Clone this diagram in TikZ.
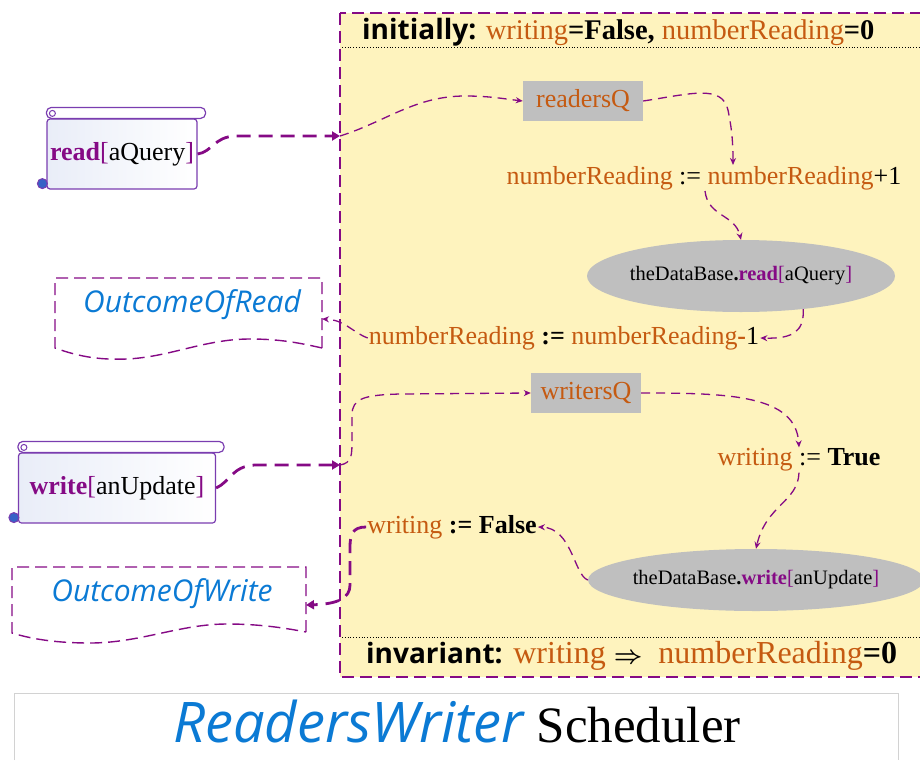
\documentclass[tikz,border=0pt]{standalone}
\usepackage{fontspec}
\setmainfont{Liberation Serif}
\newfontfamily\headfont{Open Sans}
\newfontfamily\handfont{Open Sans}
\usepackage{tikz}
\usetikzlibrary{calc,arrows.meta,shapes.geometric,positioning}

\definecolor{rwyellow}{HTML}{FEF3BE}
\definecolor{rworange}{HTML}{C55A11}
\definecolor{rwpurple}{HTML}{850A85}
\definecolor{rwviolet}{HTML}{7A3DB0}
\definecolor{rwblue}{HTML}{0B7AD4}
\definecolor{rwgray}{HTML}{BFBFBF}
\definecolor{rwpale}{HTML}{E9EDF8}

\newcommand{\rwv}[1]{\textcolor{rworange}{#1}}
\newcommand{\rwop}[1]{\textcolor{rwpurple}{\bfseries #1}}
\newcommand{\rwbr}[1]{\textcolor{rwpurple}{#1}}

\tikzset{
  flow/.style={rwpurple, line width=1.3pt, dash pattern=on 9pt off 6pt,
    -{Stealth[length=7pt,width=6pt]}},
  bigflow/.style={rwpurple, line width=2.8pt, dash pattern=on 14pt off 8pt,
    -{Triangle[length=8pt,width=9pt]}},
  rwtext/.style={font=\fontsize{26}{30}\selectfont, inner sep=1pt},
  queue/.style={rwtext, fill=rwgray, minimum height=40pt, text=rworange},
  dbcall/.style={ellipse, fill=rwgray, inner xsep=-12pt, inner ysep=0pt,
    font=\fontsize{20.5}{24}\selectfont},
  scroll/.style={draw=rwviolet, line width=1.2pt, rounded corners=3pt,
    left color=rwpale, right color=white, minimum height=70pt, inner sep=0pt,
    font=\fontsize{26}{30}\selectfont},
  outline/.style={rwpurple, line width=1.4pt, dash pattern=on 12pt off 6pt},
  outtext/.style={text=rwblue, font=\handfont\itshape\fontsize{30}{34}\selectfont},
}

\begin{document}
\begin{tikzpicture}[x=1pt,y=-1pt]

\useasboundingbox (0,0) rectangle (920,760);

% the scheduler
\fill[rwyellow] (340,13) rectangle (930,677);
\draw[rwpurple, line width=1.4pt, dash pattern=on 12pt off 6pt] (340,13) rectangle (930,677);
\draw[dotted, thick] (342,47) -- (920,47);
\draw[dotted, thick] (342,637) -- (920,637);

\node[anchor=west, inner sep=0pt, font=\fontsize{28.5}{32}\selectfont] (init) at (362,32)
  {{\headfont\bfseries\fontsize{28}{32}\selectfont initially:} \rwv{writing}\textbf{=False,} \rwv{numberReading}\textbf{=0}};
\node[anchor=west, inner sep=0pt, font=\fontsize{32}{36}\selectfont] (inv) at (366,656)
  {{\headfont\bfseries\fontsize{28}{32}\selectfont invariant:} \rwv{writing} {\boldmath$\Rightarrow$}\ \ \rwv{numberReading}\textbf{=0}};

\coordinate (readin) at (340,136);
\coordinate (writein) at (340,465);

% messages coming in
\node[scroll, minimum width=150pt] (readmsg) at (122,154) {\rwop{read}\rwbr{[}aQuery\rwbr{]}};
\draw[rwviolet, line width=1.2pt, fill=white, rounded corners=5pt]
  ($(readmsg.north west)+(0,-11)$) rectangle ($(readmsg.north east)+(8,0)$);
\draw[rwviolet, line width=1pt] ($(readmsg.north west)+(6,-5)$) circle (3);
\draw[rwviolet, line width=1pt, fill=rwblue!60!rwviolet] ($(readmsg.south west)+(-4,-6)$) circle (5);

\node[scroll, minimum width=197pt] (writemsg) at (117,488) {\rwop{write}\rwbr{[}anUpdate\rwbr{]}};
\draw[rwviolet, line width=1.2pt, fill=white, rounded corners=5pt]
  ($(writemsg.north west)+(0,-11)$) rectangle ($(writemsg.north east)+(8,0)$);
\draw[rwviolet, line width=1pt] ($(writemsg.north west)+(6,-5)$) circle (3);
\draw[rwviolet, line width=1pt, fill=rwblue!60!rwviolet] ($(writemsg.south west)+(-4,-6)$) circle (5);

% outcomes
\coordinate (outreadR) at (322,319);
\coordinate (outwriteR) at (306,605);
\draw[outline] (322,348) -- (322,278) -- (55,278) -- (55,348)
  .. controls (80,357) and (100,360) .. (127,359)
  .. controls (170,357) and (205,339) .. (250,339)
  .. controls (280,339) and (300,343) .. (322,348);
\node[outtext] (outread) at (192,305) {OutcomeOfRead};
\draw[outline] (306,632) -- (306,567) -- (12,567) -- (12,633)
  .. controls (35,640) and (60,643) .. (90,643)
  .. controls (140,643) and (180,624) .. (227,624)
  .. controls (260,624) and (285,628) .. (306,632);
\node[outtext] (outwrite) at (162,594) {OutcomeOfWrite};

% reading
\node[queue, minimum width=120pt] (readersQ) at (583,101) {readersQ};
\node[rwtext] (inc) at (704,178) {\rwv{numberReading} := \rwv{numberReading}+1};
\node[dbcall, minimum width=308pt, minimum height=72pt] (readdb) at (741,276)
  {theDataBase\textbf{.}\rwop{read}\rwbr{[}aQuery\rwbr{]}};
\node[rwtext] (dec) at (564,338) {\rwv{numberReading} \textbf{:=} \rwv{numberReading\textbf{-}}1};

% writing
\node[queue, minimum width=110pt] (writersQ) at (586,393) {writersQ};
\node[rwtext] (wtrue) at (799,460) {\rwv{writing} := \textbf{True}};
\node[dbcall, minimum width=336pt, minimum height=62pt] (writedb) at (756,580)
  {theDataBase\textbf{.}\rwop{write}\rwbr{[}anUpdate\rwbr{]}};
\node[rwtext] (wfalse) at (452,527) {\rwv{writing} \textbf{:= False}};

% title
\draw[rwgray!70, line width=1pt] (14,760) -- (14,693) -- (898,693) -- (898,760);
\node[anchor=base, inner sep=0pt, font=\fontsize{51}{56}\selectfont] (title) at (457,742)
  {\textcolor{rwblue}{\handfont\itshape\fontsize{56}{60}\selectfont ReadersWriter} Scheduler};

% connectors
\draw[bigflow] (readmsg.east) .. controls (212,152) and (214,137) .. (235,136) -- (readin);
\draw[flow] (readin) .. controls (385,122) and (415,96) .. (465,96)
  .. controls (490,96) and (505,99) .. (readersQ.west);
\draw[flow] (readersQ.east) .. controls (690,94) and (722,84) .. (728,110)
  .. controls (731,125) and (733,138) .. ([xshift=29pt]inc.north);
\draw[flow] ([xshift=1pt]inc.south) .. controls (708,217) and (735,214) .. (readdb.north);
\draw[flow] (readdb.-28) .. controls (804,330) and (795,339) .. (dec.east);
\draw[flow] (dec.west) .. controls (352,332) and (345,320) .. (outreadR);

\draw[bigflow] (writemsg.east) .. controls (230,482) and (232,466) .. (255,465) -- (writein);
\draw[flow] (writein) .. controls (352,463) and (352,455) .. (352,440) -- (352,415)
  .. controls (352,398) and (365,395) .. (400,394) -- (writersQ.west);
\draw[flow] (writersQ.east) .. controls (730,393) and (796,395) .. (wtrue.north);
\draw[flow] (wtrue.south) .. controls (798,502) and (766,505) .. (writedb.north);
\draw[flow] (writedb.west) .. controls (574,575) and (572,528) .. (wfalse.east);
\draw[bigflow] (wfalse.west) .. controls (352,527) and (350,535) .. (350,548) -- (350,585)
  .. controls (350,598) and (338,604) .. (outwriteR);

\end{tikzpicture}
\end{document}
